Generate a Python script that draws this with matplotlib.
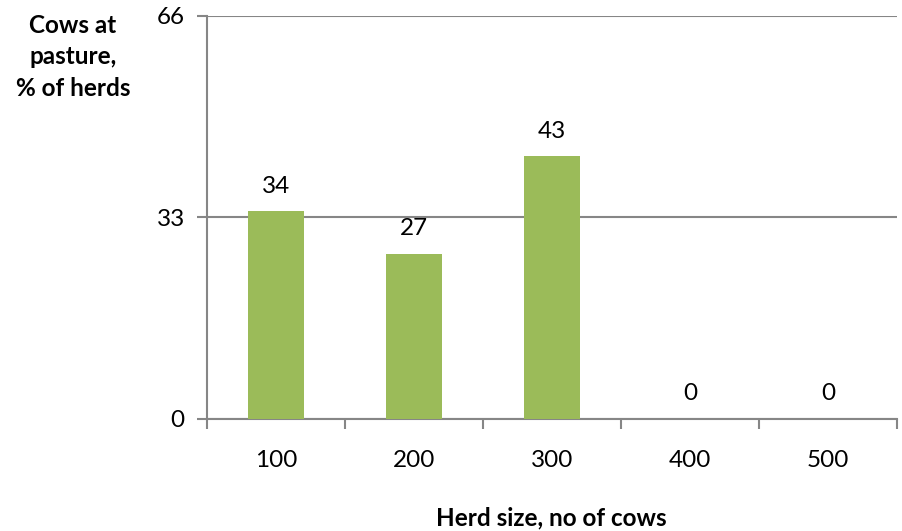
import matplotlib
matplotlib.use("Agg")
import matplotlib.pyplot as plt
import numpy as np

herd_sizes = ["100", "200", "300", "400", "500"]
pasture_pct = [34, 27, 43, 0, 0]
y_ticks = [0, 33, 66]

plt.rcParams['font.family'] = ['Lato', 'DejaVu Sans']

fig = plt.figure(figsize=(9.02, 5.31), dpi=100)
ax = fig.add_axes([207 / 902, 1 - 418.5 / 531, 690 / 902, (418.5 - 16) / 531])

x = np.arange(len(herd_sizes))
bars = ax.bar(x, pasture_pct, width=0.4, color="#9BBB59", zorder=3)

grid_col = "#868686"
ax.set_xlim(-0.5, len(herd_sizes) - 0.5)
ax.set_ylim(0, 66)
ax.set_yticks(y_ticks)
ax.set_yticklabels([str(v) for v in y_ticks], fontsize=17.5)
ax.yaxis.grid(True, color=grid_col, linewidth=1.5, zorder=0)

ax.set_xticks(x)
ax.set_xticklabels(herd_sizes, fontsize=17.5)
ax.set_xticks(np.arange(-0.5, len(herd_sizes)), minor=True)
ax.tick_params(axis="x", which="major", length=0, pad=23)
ax.tick_params(axis="x", which="minor", length=7, width=1.5, color=grid_col, direction="out")
ax.tick_params(axis="y", length=7, width=1.5, color=grid_col, direction="out", pad=9)

for side in ("top", "right"):
    ax.spines[side].set_visible(False)
for side in ("left", "bottom"):
    ax.spines[side].set_color(grid_col)
    ax.spines[side].set_linewidth(1.5)

for rect, val in zip(bars, pasture_pct):
    ax.annotate(str(val), (rect.get_x() + rect.get_width() / 2, val),
                xytext=(0, 18), textcoords="offset points",
                ha="center", va="center", fontsize=17.5)

fig.text(73 / 902, 1 - 57 / 531, "Cows at\npasture,\n% of herds", ha="center", va="center",
         fontsize=17.5, fontweight="bold", linespacing=1.45)
fig.text(551 / 902, 1 - 518 / 531, "Herd size, no of cows", ha="center", va="center",
         fontsize=17.5, fontweight="bold")

fig.savefig("out.png", dpi=100)
